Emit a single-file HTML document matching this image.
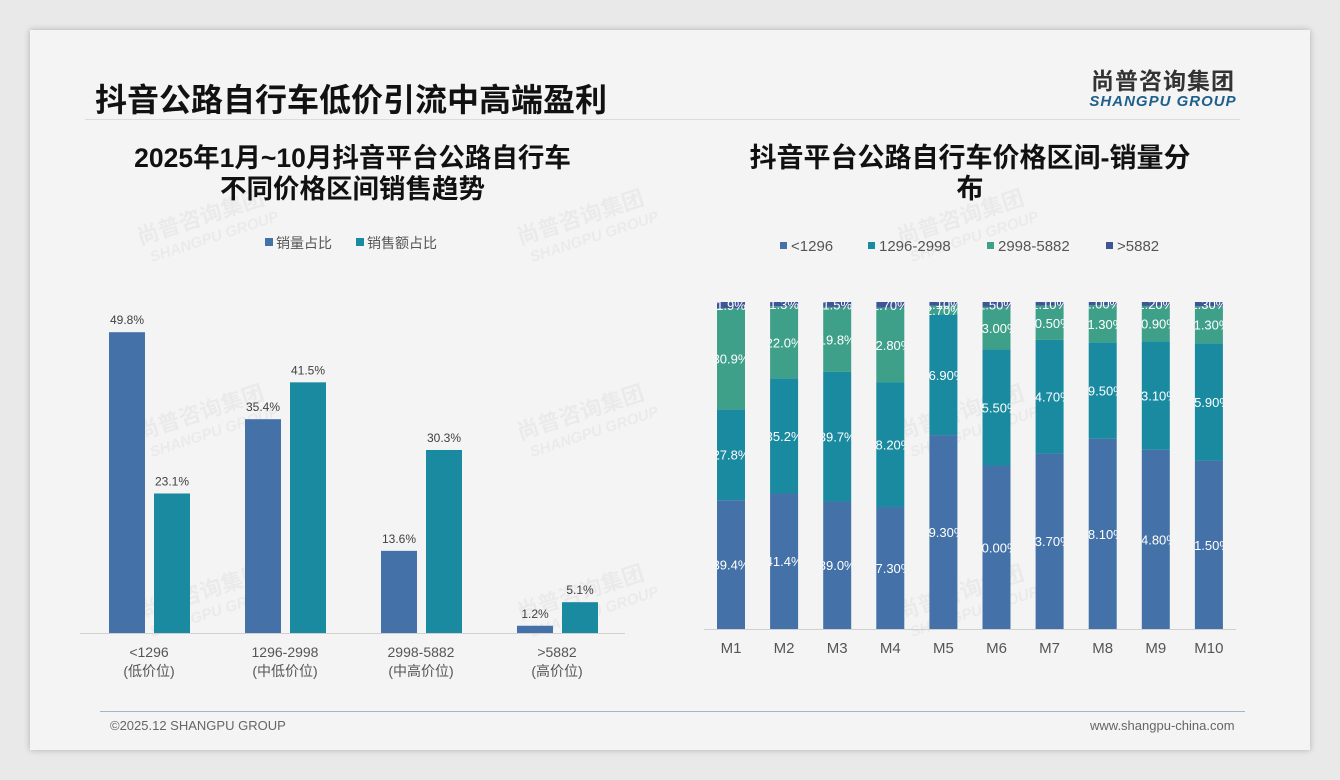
<!DOCTYPE html>
<html><head><meta charset="utf-8"><style>
body{margin:0;width:1340px;height:780px;background:#e9e9e9;font-family:"Liberation Sans","Noto Sans CJK SC",sans-serif;overflow:hidden;position:relative}
.card{position:absolute;left:30px;top:30px;width:1280px;height:720px;background:#f4f4f4;box-shadow:0 0 6px rgba(0,0,0,.25)}
.abs{position:absolute}
</style></head><body>
<div class="card"></div>
<div class="abs" style="left:95px;top:75px;font-size:32px;font-weight:bold;color:#111">抖音公路自行车低价引流中高端盈利</div>
<div class="abs" style="left:85px;top:119px;width:1155px;height:1px;background:#dcdcdc"></div>
<div class="abs" style="left:1080px;top:62px;width:166px;text-align:center">
<div style="font-size:23px;font-weight:bold;color:#333;letter-spacing:1px">尚普咨询集团</div>
<div style="font-size:15px;font-weight:bold;font-style:italic;color:#1f5f8b;letter-spacing:1px;margin-top:-3px">SHANGPU GROUP</div></div>
<div class="abs" style="left:60px;top:143px;width:585px;text-align:center;font-size:26.5px;font-weight:bold;color:#111;line-height:31px">2025年1月~10月抖音平台公路自行车<br>不同价格区间销售趋势</div>
<div class="abs" style="left:670px;top:143px;width:600px;text-align:center;font-size:27px;font-weight:bold;color:#111;line-height:31px">抖音平台公路自行车价格区间-销量分<br>布</div>
<svg class="abs" style="left:0;top:0" width="1340" height="780" id="svg"></svg>
<div class="abs" style="left:100px;top:711px;width:1145px;height:1px;background:#9bb7d4"></div>
<div class="abs" style="left:110px;top:718px;font-size:13px;color:#666">©2025.12 SHANGPU GROUP</div>
<div class="abs" style="left:1090px;top:718px;font-size:13px;color:#666">www.shangpu-china.com</div>
<script>
const leftCats=["<1296","1296-2998","2998-5882",">5882"];
const leftSub=["(低价位)","(中低价位)","(中高价位)","(高价位)"];
const volShare=[49.8,35.4,13.6,1.2];
const amtShare=[23.1,41.5,30.3,5.1];
const months=["M1","M2","M3","M4","M5","M6","M7","M8","M9","M10"];
const s1=[39.4,41.4,39.0,37.3,59.3,50.0,53.7,58.1,54.8,51.5];
const s2=[27.8,35.2,39.7,38.2,36.9,35.5,34.7,29.5,33.1,35.9];
const s3=[30.9,22.0,19.8,22.8,2.7,13.0,10.5,11.3,10.9,11.3];
const s4=[1.9,1.3,1.5,1.7,1.1,1.5,1.1,1.0,1.2,1.3];
const s1L=["39.4%","41.4%","39.0%","37.30%","59.30%","50.00%","53.70%","58.10%","54.80%","51.50%"];
const s2L=["27.8%","35.2%","39.7%","38.20%","36.90%","35.50%","34.70%","29.50%","33.10%","35.90%"];
const s3L=["30.9%","22.0%","19.8%","22.80%","2.70%","13.00%","10.50%","11.30%","10.90%","11.30%"];
const s4L=["1.9%","1.3%","1.5%","1.70%","1.10%","1.50%","1.10%","1.00%","1.20%","1.30%"];
(function(){
const NS="http://www.w3.org/2000/svg",svg=document.getElementById('svg');
function mk(t,a,txt,parent){const e=document.createElementNS(NS,t);for(const k in a)e.setAttribute(k,a[k]);if(txt!=null)e.textContent=txt;(parent||svg).appendChild(e);return e;}
const C1="#4472a8",C2="#1a8aa0",C3="#3fa08a",C4="#3f5696";
[[140,245],[140,440],[140,620],[520,245],[520,440],[520,620],[900,245],[900,440],[900,620]].forEach(p=>{
const g=mk('text',{x:p[0],y:p[1],transform:`rotate(-18 ${p[0]} ${p[1]})`,'font-size':22,'font-weight':'bold',fill:'#000','fill-opacity':0.04},'尚普咨询集团');


const g2=mk('text',{x:p[0]+6,y:p[1]+20,transform:`rotate(-18 ${p[0]} ${p[1]})`,'font-size':15,'font-weight':'bold','font-style':'italic',fill:'#000','fill-opacity':0.04},'SHANGPU GROUP');

});
const base=633,ppu=6.04,grp=136,x0=80,bw=36;
const yL=v=>base-v*ppu;
let ax=mk('line',{x1:80,x2:625,y1:base+0.5,y2:base+0.5,stroke:'#d0d0d0'});


leftCats.forEach((c,i)=>{
const cx=x0+grp*i+68;
let r=mk('rect',{x:cx-39,y:yL(volShare[i]),width:bw,height:volShare[i]*ppu,fill:C1});


let t=mk('text',{x:cx-21,y:yL(volShare[i])-8,'text-anchor':'middle','font-size':12,fill:'#404040'},volShare[i].toFixed(1)+'%');


let r2=mk('rect',{x:cx+6,y:yL(amtShare[i]),width:bw,height:amtShare[i]*ppu,fill:C2});


let t2=mk('text',{x:cx+24,y:yL(amtShare[i])-8,'text-anchor':'middle','font-size':12,fill:'#404040'},amtShare[i].toFixed(1)+'%');


let l=mk('text',{x:cx+1,y:657,'text-anchor':'middle','font-size':14,fill:'#555'},c);


let l2=mk('text',{x:cx+1,y:676,'text-anchor':'middle','font-size':14,fill:'#555'},leftSub[i]);


});
[[265,C1,'销量占比'],[356,C2,'销售额占比']].forEach(l=>{
let r=mk('rect',{x:l[0],y:238,width:8,height:8,fill:l[1]});


let t=mk('text',{x:l[0]+11,y:248,'font-size':14,fill:'#555'},l[2]);

});
const pTop=302,pBot=629,H=pBot-pTop,rx0=704,step=53.1,rbw=28;
let ax2=mk('line',{x1:704,x2:1236,y1:pBot+0.5,y2:pBot+0.5,stroke:'#d0d0d0'});


const series=[[s1,C1,s1L,'lt1296'],[s2,C2,s2L,'1296-2998'],[s3,C3,s3L,'2998-5882'],[s4,C4,s4L,'gt5882']];
const defs=mk('defs',{});
months.forEach((m,i)=>{
const cx=rx0+step*i+27;
const tot=s1[i]+s2[i]+s3[i]+s4[i];
const cp=mk('clipPath',{id:'cp'+i},null,defs);
mk('rect',{x:cx-rbw/2,y:pTop,width:rbw,height:H},null,cp);
let acc=0;
series.forEach(s=>{
const v=s[0][i],h=v/tot*H,y=pBot-(acc+v)/tot*H;
let r=mk('rect',{x:cx-rbw/2,y:y,width:rbw,height:h,fill:s[1]});


let t=mk('text',{x:cx,y:y+h/2+5,'text-anchor':'middle','font-size':13,fill:'#fff','clip-path':`url(#cp${i})`},s[2][i]);


acc+=v;});
let l=mk('text',{x:cx,y:653,'text-anchor':'middle','font-size':15,fill:'#555'},m);


});
[[780,C1,'<1296'],[868,C2,'1296-2998'],[987,C3,'2998-5882'],[1106,C4,'>5882']].forEach(l=>{
let r=mk('rect',{x:l[0],y:242,width:7,height:7,fill:l[1]});


let t=mk('text',{x:l[0]+11,y:251,'font-size':15,fill:'#555'},l[2]);

});
})();
</script>
</body></html>
